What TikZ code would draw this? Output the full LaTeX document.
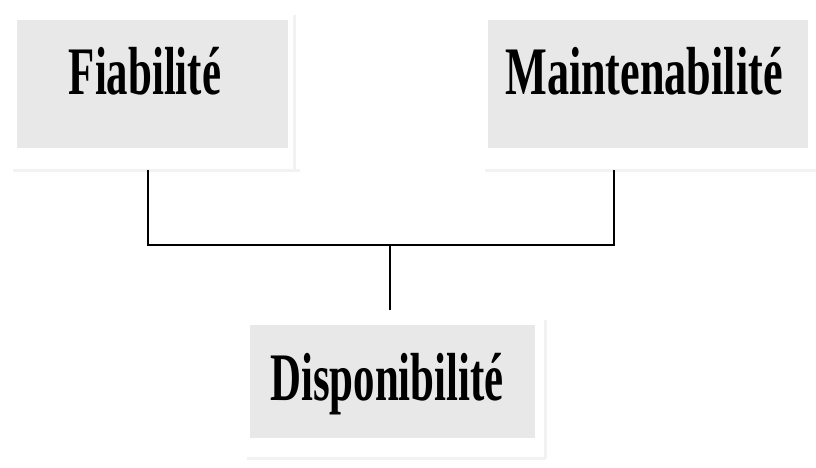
\documentclass[tikz,border=0pt]{standalone}
\usepackage{fontspec}
\setmainfont{Liberation Serif}
\usepackage{graphicx}
\begin{document}
\begin{tikzpicture}[x=1pt,y=-1pt,
  box/.style={fill=black!9, draw=none, inner sep=0pt, minimum width=#1},
  lbl/.style={anchor=base, inner sep=0pt, font=\bfseries\fontsize{68}{70}\selectfont},
  edge/.style={draw=black!5, line width=3pt},
  conn/.style={draw=black, line width=1.8pt}]
\useasboundingbox (0,0) rectangle (816,468);
% boxes
\node[box=271, minimum height=128] (fia) at (152.5,84) {};
\node[box=320, minimum height=128] (mai) at (648,84) {};
\node[box=285, minimum height=113] (dis) at (392.5,381.5) {};
% faint frames
\draw[edge] (13,170) -- (300,170);
\draw[edge] (294,15) -- (294,170);
\draw[edge] (485,170) -- (816,170);
\draw[edge] (247,458) -- (546,458);
\draw[edge] (545,320) -- (545,458);
% labels
\node[lbl] (fiat) at (145,95) {\scalebox{0.63}[1]{Fiabilité}};
\node[lbl] (mait) at (644,95) {\scalebox{0.65}[1]{Maintenabilité}};
\node[lbl] (dist) at (387,400) {\scalebox{0.63}[1]{Disponibilité}};
% connectors
\coordinate (fdrop) at (148,170);
\coordinate (mdrop) at (614,170);
\coordinate (junc) at (390,245);
\coordinate (dtop) at (390,310);
\draw[conn] (fdrop) |- (junc) -| (mdrop);
\draw[conn] (junc) -- (dtop);
\end{tikzpicture}
\end{document}
